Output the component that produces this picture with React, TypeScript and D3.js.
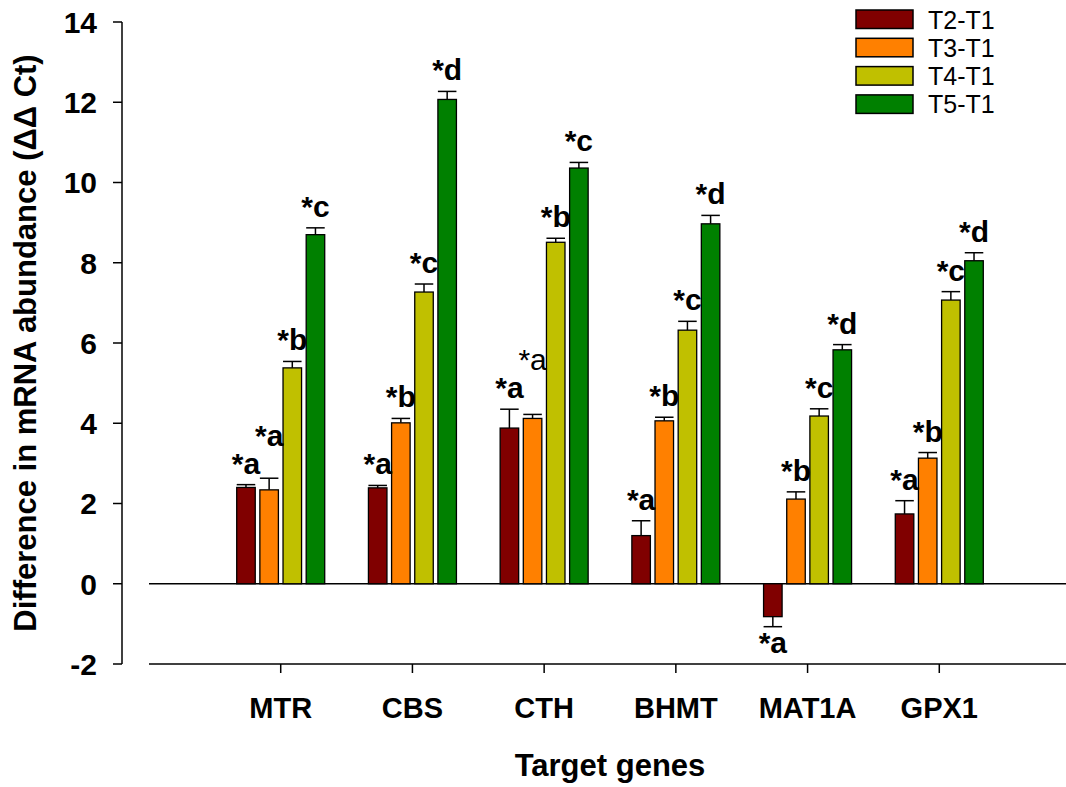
import * as d3 from 'd3'

const genes = ['MTR', 'CBS', 'CTH', 'BHMT', 'MAT1A', 'GPX1']
const seriesNames = ['T2-T1', 'T3-T1', 'T4-T1', 'T5-T1']
const seriesColors = ['#800000', '#FF8000', '#C0C000', '#008000']

const t2 = [2.4, 2.39, 3.88, 1.2, -0.82, 1.74]
const t3 = [2.34, 4.01, 4.12, 4.06, 2.11, 3.13]
const t4 = [5.38, 7.27, 8.51, 6.32, 4.18, 7.07]
const t5 = [8.7, 12.07, 10.36, 8.97, 5.83, 8.05]

const t2Err = [0.07, 0.06, 0.47, 0.37, 0.25, 0.33]
const t3Err = [0.29, 0.11, 0.1, 0.09, 0.18, 0.14]
const t4Err = [0.16, 0.2, 0.1, 0.22, 0.18, 0.21]
const t5Err = [0.17, 0.2, 0.14, 0.21, 0.13, 0.2]

const t2Sig = ['*a', '*a', '*a', '*a', '*a', '*a']
const t3Sig = ['*a', '*b', '*a', '*b', '*b', '*b']
const t4Sig = ['*b', '*c', '*b', '*c', '*c', '*c']
const t5Sig = ['*c', '*d', '*c', '*d', '*d', '*d']

const yTicks = [-2, 0, 2, 4, 6, 8, 10, 12, 14]

const values = [t2, t3, t4, t5]
const errors = [t2Err, t3Err, t4Err, t5Err]
const sigs = [t2Sig, t3Sig, t4Sig, t5Sig]

// one label in the original was typed in a regular weight
const plainLabel = { gene: 'CTH', series: 'T3-T1' }

const W = 1066
const H = 787
const font = '"Liberation Sans", Arial, Helvetica, sans-serif'

export default function App() {
  const x = d3.scaleLinear().domain([0, genes.length + 1]).range([149, 1071])
  const y = d3.scaleLinear().domain([-2, 14]).range([664, 22])
  const inner = d3.scaleBand().domain(seriesNames).range([-44, 44]).paddingInner(0.2)
  const bw = inner.bandwidth()
  const axisX = 122

  const bars = genes.flatMap((gene, gi) =>
    seriesNames.map((s, si) => {
      const v = values[si][gi]
      const e = errors[si][gi]
      const cx = x(gi + 1) + inner(s)! + bw / 2
      return { gene, s, si, v, e, cx, sig: sigs[si][gi] }
    })
  )

  // label placement, lifting a label when it runs into its left neighbour
  const labels: { x: number; y: number; text: string; plain: boolean }[] = []
  genes.forEach(gene => {
    const grp = bars.filter(b => b.gene === gene)
    let prev: { x: number; y: number } | null = null
    grp.forEach(b => {
      let ly: number
      if (b.v >= 0) {
        ly = y(b.v + b.e) - 11
        if (prev && Math.abs(prev.x - b.cx) < 28 && Math.abs(prev.y - ly) < 24) ly = prev.y - 28
      } else {
        ly = y(b.v - b.e) + 26
      }
      const lab = {
        x: b.cx,
        y: ly,
        text: b.sig,
        plain: b.gene === plainLabel.gene && b.s === plainLabel.series,
      }
      labels.push(lab)
      prev = lab
    })
  })

  return (
    <svg width={W} height={H} style={{ position: 'absolute', left: 0, top: 0 }} fontFamily={font}>
      <rect width={W} height={H} fill="#fff" />

      {/* Y axis */}
      <line x1={axisX} x2={axisX} y1={y(14)} y2={y(-2)} stroke="#000" strokeWidth={1.5} />
      {yTicks.map(t => (
        <g key={t}>
          <line x1={axisX - 9} x2={axisX} y1={y(t)} y2={y(t)} stroke="#000" strokeWidth={1.5} />
          <text x={97} y={y(t)} dy="0.36em" textAnchor="end" fontSize={30} fontWeight="bold">{t}</text>
        </g>
      ))}
      <text transform={`translate(36,${(y(14) + y(-2)) / 2}) rotate(-90)`} textAnchor="middle" fontSize={31} fontWeight="bold">
        Difference in mRNA abundance (ΔΔ Ct)
      </text>

      {/* zero line */}
      <line x1={x(0)} x2={x(genes.length + 1)} y1={y(0)} y2={y(0)} stroke="#000" strokeWidth={1.3} />

      {/* X axis */}
      <line x1={x(0)} x2={x(genes.length + 1)} y1={y(-2)} y2={y(-2)} stroke="#000" strokeWidth={1.5} />
      {genes.map((g, i) => (
        <g key={g}>
          <line x1={x(i + 1)} x2={x(i + 1)} y1={y(-2)} y2={y(-2) + 9} stroke="#000" strokeWidth={1.5} />
          <text x={x(i + 1)} y={718} textAnchor="middle" fontSize={29} fontWeight="bold">{g}</text>
        </g>
      ))}
      <text x={(x(0) + x(genes.length + 1)) / 2} y={776} textAnchor="middle" fontSize={31} fontWeight="bold">Target genes</text>

      {/* Bars + error bars */}
      {bars.map(b => {
        const top = y(Math.max(0, b.v))
        const bot = y(Math.min(0, b.v))
        const end = b.v >= 0 ? y(b.v + b.e) : y(b.v - b.e)
        const start = y(b.v)
        return (
          <g key={b.gene + b.s}>
            <line x1={b.cx} x2={b.cx} y1={start} y2={end} stroke="#000" strokeWidth={1.5} />
            <line x1={b.cx - bw / 2} x2={b.cx + bw / 2} y1={end} y2={end} stroke="#000" strokeWidth={1.5} />
            <rect x={b.cx - bw / 2} y={top} width={bw} height={bot - top} fill={seriesColors[b.si]} stroke="#000" strokeWidth={1.3} />
          </g>
        )
      })}

      {labels.map((l, i) => (
        <text key={i} x={l.x} y={l.y} textAnchor="middle" fontSize={30} fontWeight={l.plain ? 'normal' : 'bold'}>
          {l.text}
        </text>
      ))}

      {/* Legend */}
      {seriesNames.map((s, i) => (
        <g key={s} transform={`translate(856,${10 + i * 28.3})`}>
          <rect width={57} height={18.5} fill={seriesColors[i]} stroke="#000" strokeWidth={1.5} />
          <text x={72} y={18.5} fontSize={25}>{s}</text>
        </g>
      ))}
    </svg>
  )
}
